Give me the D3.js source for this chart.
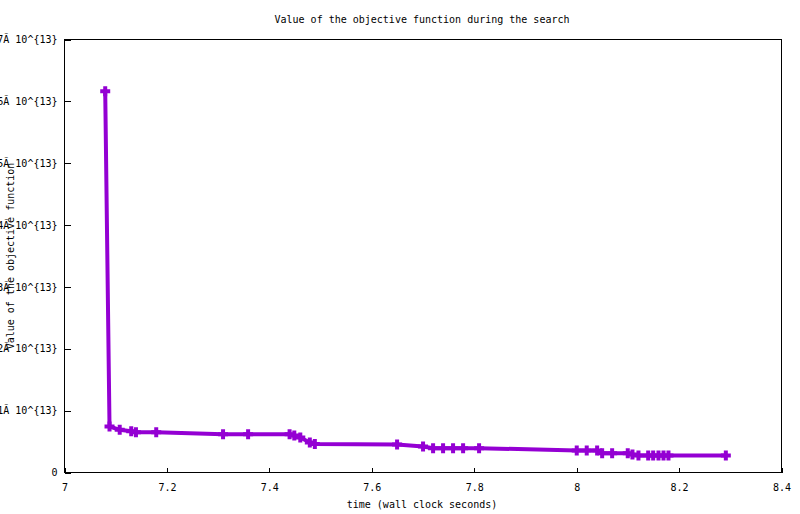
<!DOCTYPE html>
<html>
<head>
<meta charset="utf-8">
<script src="https://cdn.jsdelivr.net/npm/d3@7"></script>
<style>
  body { margin: 0; background: #fff; }
  text { font-family: "DejaVu Sans Mono", monospace; font-size: 10px; fill: #000; }
</style>
</head>
<body>
<svg id="chart"></svg>
<script>
// wall clock seconds of each improvement and the objective value found
const times = [7.0795, 7.0879, 7.1078, 7.1303, 7.1395, 7.1791, 7.3096, 7.3585, 7.4395, 7.4487,
  7.4604, 7.4790, 7.4888, 7.6494, 7.7001, 7.7197, 7.7392, 7.7587, 7.7783, 7.8095,
  8.0002, 8.0197, 8.0400, 8.0498, 8.0693, 8.0998, 8.1090, 8.1207, 8.1397, 8.1494,
  8.1598, 8.1696, 8.1793, 8.2913];
const values = [6.164e13, 0.744e13, 0.690e13, 0.668e13, 0.651e13, 0.651e13, 0.619e13, 0.619e13, 0.619e13, 0.598e13,
  0.566e13, 0.485e13, 0.461e13, 0.453e13, 0.420e13, 0.393e13, 0.393e13, 0.393e13, 0.393e13, 0.393e13,
  0.356e13, 0.356e13, 0.356e13, 0.312e13, 0.312e13, 0.312e13, 0.291e13, 0.275e13, 0.275e13, 0.275e13,
  0.275e13, 0.275e13, 0.275e13, 0.275e13];
const xTicks = [7, 7.2, 7.4, 7.6, 7.8, 8, 8.2, 8.4];
const yTicks = [0, 1e13, 2e13, 3e13, 4e13, 5e13, 6e13, 7e13];

const title = "Value of the objective function during the search";
const xLabel = "time (wall clock seconds)";
const yLabel = "Value of the objective function";

const svgWidth = 800, svgHeight = 514;
const plotLeft = 64.5, plotRight = 781.5, plotTop = 39.5, plotBottom = 472.5;

const svg = d3.select("#chart")
  .attr("width", svgWidth)
  .attr("height", svgHeight);

const x = d3.scaleLinear().domain([7, 8.4]).range([plotLeft, plotRight]);
const y = d3.scaleLinear().domain([0, 7e13]).range([plotBottom, plotTop]);

const data = times.map((t, i) => ({ t: t, v: values[i] }));

// x axis, ticks pointing inward
const xg = svg.append("g")
  .attr("transform", "translate(0," + plotBottom + ")")
  .call(d3.axisBottom(x).tickValues(xTicks).tickSize(-5).tickPadding(11)
    .tickFormat(d => String(+d.toFixed(1))));
xg.select(".domain").remove();

// y axis (labels run off the left edge, as in the original)
const yg = svg.append("g")
  .attr("transform", "translate(" + plotLeft + ",0)")
  .call(d3.axisLeft(y).tickValues(yTicks).tickSize(-6).tickPadding(7)
    .tickFormat(d => d === 0 ? "0" : (d / 1e13) + "Ã 10^{13}"));
yg.select(".domain").remove();

svg.selectAll(".tick line").attr("stroke", "#000").attr("shape-rendering", "crispEdges");
xg.attr("font-family", null).attr("font-size", null);
yg.attr("font-family", null).attr("font-size", null);

// border
svg.append("rect")
  .attr("x", plotLeft).attr("y", plotTop)
  .attr("width", plotRight - plotLeft).attr("height", plotBottom - plotTop)
  .attr("fill", "none")
  .attr("stroke", "#000")
  .attr("shape-rendering", "crispEdges");

const line = d3.line()
  .x(d => x(d.t))
  .y(d => y(d.v));

svg.append("path")
  .datum(data)
  .attr("fill", "none")
  .attr("stroke", "#9400d3")
  .attr("stroke-width", 4)
  .attr("d", line);

// plus markers
svg.append("g")
  .selectAll("path")
  .data(data)
  .join("path")
  .attr("transform", d => "translate(" + x(d.t) + "," + y(d.v) + ")")
  .attr("d", "M-5,0H5M0,-5V5")
  .attr("stroke", "#9400d3")
  .attr("stroke-width", 4)
  .attr("fill", "none");

svg.append("text")
  .attr("x", 422).attr("y", 23)
  .attr("text-anchor", "middle")
  .text(title);

svg.append("text")
  .attr("x", 422).attr("y", 508)
  .attr("text-anchor", "middle")
  .text(xLabel);

svg.append("text")
  .attr("transform", "translate(14," + ((plotTop + plotBottom) / 2) + ") rotate(-90)")
  .attr("text-anchor", "middle")
  .text(yLabel);
</script>
</body>
</html>
